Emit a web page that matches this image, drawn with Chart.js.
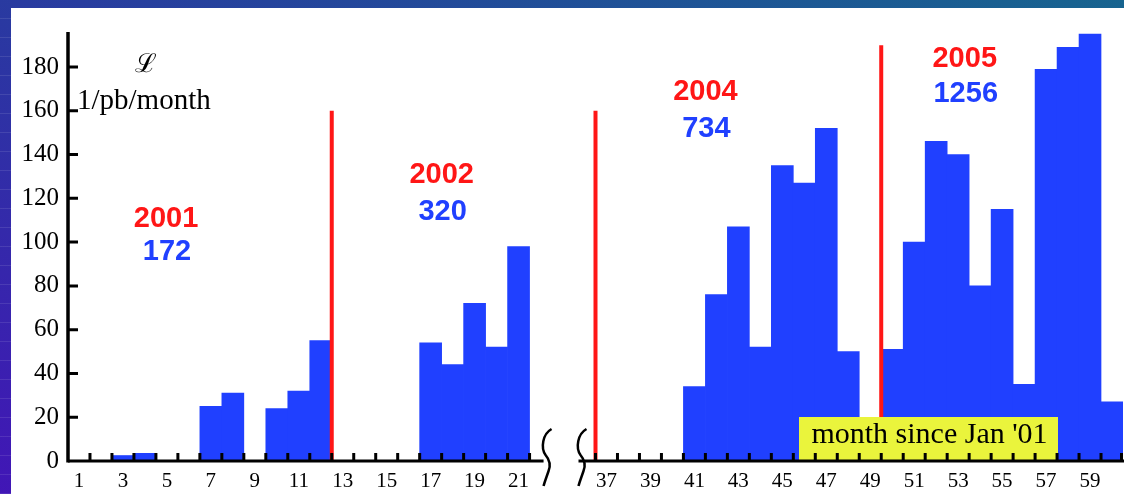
<!DOCTYPE html>
<html>
<head>
<meta charset="utf-8">
<title>Luminosity per month</title>
<script src="https://cdn.jsdelivr.net/npm/chart.js@4.4.0/dist/chart.umd.min.js"></script>
<style>
    html, body {
        margin: 0;
        padding: 0;
        width: 1124px;
        height: 494px;
        overflow: hidden;
    }
    body {
        background:
            repeating-linear-gradient(0deg, rgba(255,255,255,0.10) 0 1px, transparent 1px 19px),
            linear-gradient(to top right, #4116b6 0%, #2b36a2 45%, #17648f 100%);
    }
    #panel {
        position: absolute;
        left: 11px;
        top: 8px;
        right: 0;
        bottom: 0;
        background: #ffffff;
    }
    #chart {
        position: absolute;
        left: 0;
        top: 0;
    }
</style>
</head>
<body>
<div id="panel"></div>
<canvas id="chart" width="1124" height="494"></canvas>

<script>
// Data (integrated luminosity per month, 1/pb)
const leftMonths = [1, 2, 3, 4, 5, 6, 7, 8, 9, 10, 11, 12, 13, 14, 15, 16, 17, 18, 19, 20, 21];
const leftValues = [0, 0, 2.5, 3.5, 0, 0, 25, 31, 0, 24, 32, 55, 0, 0, 0, 0, 54, 44, 72, 52, 98];
const rightMonths = [37, 38, 39, 40, 41, 42, 43, 44, 45, 46, 47, 48, 49, 50, 51, 52, 53, 54, 55, 56, 57, 58, 59, 60];
const rightValues = [0, 0, 0, 0, 34, 76, 107, 52, 135, 127, 152, 50, 0, 51, 100, 146, 140, 80, 115, 35, 179, 189, 195, 27];
const gapSlots = 3;

// Year boundaries and yearly totals
const yearNames = ['2001', '2002', '2004', '2005'];
const yearTotals = ['172', '320', '734', '1256'];
const yearLineMonths = [12.5, 36.5, 49.5];
const yearLineTops = [160, 160, 190];

// y axis
const yMax = 196;
const yStep = 20;

const RED = '#ff1616';
const BLUE = '#2040ff';

// Labels/values laid out on one category axis with an empty break in the middle
const labels = leftMonths.map(String)
    .concat(new Array(gapSlots).fill(''))
    .concat(rightMonths.map(String));
const values = leftValues
    .concat(new Array(gapSlots).fill(null))
    .concat(rightValues);

// month number -> category index
function monthIndex(m) {
    const last = leftMonths[leftMonths.length - 1];
    if (m <= last + 0.99) return m - leftMonths[0];
    return m - rightMonths[0] + leftMonths.length + gapSlots;
}

// where the annotations sit (month, value)
const yearTextAt = [
    { month: 4.96, top: 107, bottom: 92 },
    { month: 17.5, top: 127, bottom: 110 },
    { month: 41.5, top: 165, bottom: 148 },
    { month: 53.3, top: 180, bottom: 164 }
];

// curly mark used where the x axis is broken
function drawBreak(ctx, cx, yMid) {
    ctx.beginPath();
    ctx.moveTo(cx + 5, yMid - 31);
    ctx.bezierCurveTo(cx - 4, yMid - 26, cx - 6, yMid - 12, cx - 1, yMid - 5);
    ctx.bezierCurveTo(cx + 4, yMid + 1, cx + 4, yMid + 6, cx + 2, yMid + 11);
    ctx.bezierCurveTo(cx, yMid + 17, cx - 2, yMid + 22, cx - 3, yMid + 26);
    ctx.stroke();
}

const decor = {
    id: 'decor',
    afterDatasetsDraw(chart) {
        const ctx = chart.ctx;
        const x = chart.scales.x;
        const y = chart.scales.y;
        const area = chart.chartArea;
        const y0 = y.getPixelForValue(0);

        ctx.save();

        // red year separators
        ctx.strokeStyle = RED;
        ctx.lineWidth = 4;
        yearLineMonths.forEach((m, i) => {
            const px = x.getPixelForValue(monthIndex(m));
            ctx.beginPath();
            ctx.moveTo(px, y.getPixelForValue(yearLineTops[i]));
            ctx.lineTo(px, y0);
            ctx.stroke();
        });

        // yellow axis-title box
        ctx.font = '30px "Liberation Serif"';
        const title = "month since Jan '01";
        const boxRight = area.right - 65;
        const boxLeft = boxRight - 259;
        ctx.fillStyle = '#eaf43c';
        ctx.fillRect(boxLeft, y0 - 44, boxRight - boxLeft, 44);
        ctx.fillStyle = '#000';
        ctx.textAlign = 'center';
        ctx.textBaseline = 'alphabetic';
        ctx.fillText(title, (boxLeft + boxRight) / 2 + 1, y0 - 18);

        // axes
        ctx.strokeStyle = '#000';
        ctx.lineWidth = 3.5;
        ctx.beginPath();
        ctx.moveTo(area.left, area.top);
        ctx.lineTo(area.left, y0 + 1.5);
        ctx.stroke();

        const leftEnd = x.getPixelForValue(leftMonths.length - 0.5) + 14;
        const rightStart = x.getPixelForValue(leftMonths.length + gapSlots - 0.5) - 17;
        ctx.lineWidth = 3;
        ctx.beginPath();
        ctx.moveTo(area.left, y0);
        ctx.lineTo(leftEnd, y0);
        ctx.moveTo(rightStart, y0);
        ctx.lineTo(chart.width, y0);
        ctx.stroke();

        // x ticks at month boundaries (pointing up)
        ctx.beginPath();
        for (let i = 1; i < labels.length; i++) {
            if (labels[i] === '') continue;
            const px = x.getPixelForValue(i - 0.5);
            ctx.moveTo(px, y0);
            ctx.lineTo(px, y0 - 8);
        }
        const lastPx = x.getPixelForValue(labels.length - 0.5) - 1.5;
        ctx.moveTo(lastPx, y0);
        ctx.lineTo(lastPx, y0 - 8);
        const leftLastPx = x.getPixelForValue(leftMonths.length - 0.5);
        ctx.moveTo(leftLastPx, y0);
        ctx.lineTo(leftLastPx, y0 - 8);
        ctx.stroke();

        // y ticks (pointing right)
        ctx.beginPath();
        y.ticks.forEach(t => {
            if (t.value === 0) return;
            const py = y.getPixelForValue(t.value);
            ctx.moveTo(area.left, py);
            ctx.lineTo(area.left + 10, py);
        });
        ctx.stroke();

        // axis break marks
        ctx.lineWidth = 2.5;
        drawBreak(ctx, leftEnd + 3, y0 - 1);
        drawBreak(ctx, rightStart + 3, y0 - 1);

        // luminosity label
        ctx.fillStyle = '#000';
        ctx.textAlign = 'center';
        ctx.font = '26px "DejaVu Serif"';
        ctx.fillText('\u2112', area.left + 78, y.getPixelForValue(177.5));
        ctx.textAlign = 'left';
        ctx.font = '29px "Liberation Serif"';
        ctx.fillText('1/pb/month', area.left + 9, y.getPixelForValue(161));

        // yearly totals
        ctx.textAlign = 'center';
        ctx.font = 'bold 29px "Liberation Sans"';
        yearNames.forEach((name, i) => {
            const px = x.getPixelForValue(monthIndex(yearTextAt[i].month));
            ctx.fillStyle = RED;
            ctx.fillText(name, px, y.getPixelForValue(yearTextAt[i].top));
            ctx.fillStyle = BLUE;
            ctx.fillText(yearTotals[i], px + 1, y.getPixelForValue(yearTextAt[i].bottom));
        });

        ctx.restore();
    }
};

const ctx = document.getElementById('chart').getContext('2d');
const chart = new Chart(ctx, {
    type: 'bar',
    data: {
        labels: labels,
        datasets: [{
            data: values,
            backgroundColor: BLUE,
            borderWidth: 0,
            barPercentage: 1,
            categoryPercentage: 1
        }]
    },
    options: {
        responsive: false,
        animation: false,
        events: [],
        layout: { padding: { left: 0, right: 1, top: 32, bottom: 0 } },
        plugins: {
            legend: { display: false },
            tooltip: { enabled: false }
        },
        scales: {
            x: {
                type: 'category',
                grid: { display: false, drawTicks: false },
                border: { display: false },
                afterFit: scale => { scale.height = 33; },
                ticks: {
                    autoSkip: false,
                    maxRotation: 0,
                    minRotation: 0,
                    padding: 8,
                    color: '#000',
                    font: { family: 'Liberation Serif', size: 21 },
                    callback: function(value) {
                        const lab = this.getLabelForValue(value);
                        return (lab !== '' && Number(lab) % 2 === 1) ? lab : '';
                    }
                }
            },
            y: {
                min: 0,
                max: yMax,
                grid: { display: false, drawTicks: false },
                border: { display: false },
                afterFit: scale => { scale.width = 68; },
                afterBuildTicks: scale => {
                    scale.ticks = scale.ticks.filter(t => t.value % yStep === 0);
                },
                ticks: {
                    stepSize: yStep,
                    padding: 9,
                    color: '#000',
                    font: { family: 'Liberation Serif', size: 25 }
                }
            }
        }
    },
    plugins: [decor]
});
</script>
</body>
</html>
